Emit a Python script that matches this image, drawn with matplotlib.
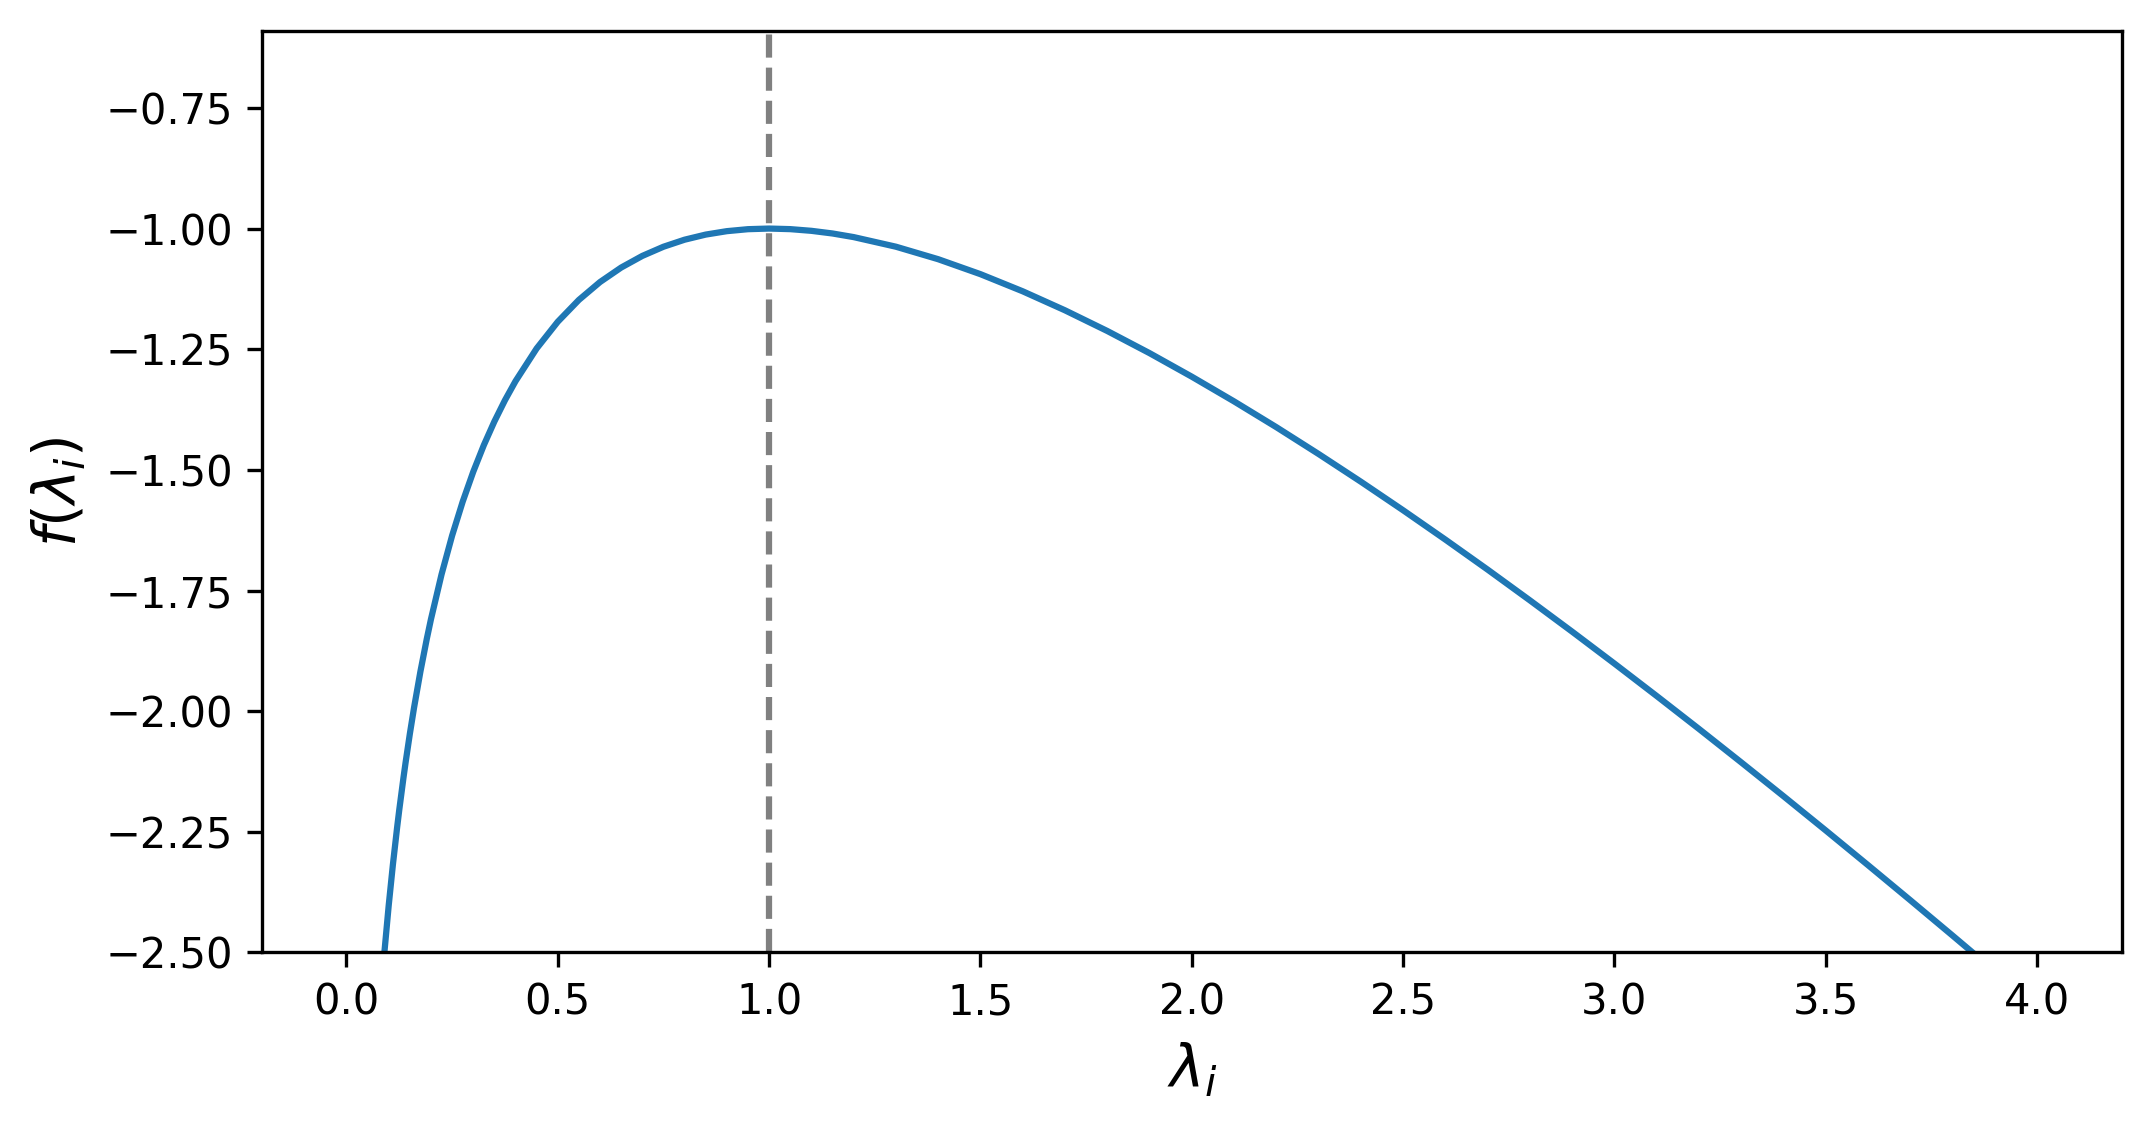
import matplotlib
matplotlib.use("Agg")
import matplotlib.pyplot as plt

# values
lam = [0.08, 0.09, 0.10, 0.11, 0.12, 0.125, 0.135, 0.14, 0.15, 0.16, 0.175,
       0.19, 0.20, 0.225, 0.25, 0.275, 0.30, 0.325, 0.35, 0.375, 0.40, 0.45,
       0.50, 0.55, 0.60, 0.65, 0.70, 0.75, 0.80, 0.85, 0.90, 0.95, 1.00,
       1.05, 1.10, 1.15, 1.20, 1.30, 1.40, 1.50, 1.60, 1.70, 1.80, 1.90,
       2.00, 2.10, 2.20, 2.30, 2.40, 2.50, 2.60, 2.70, 2.80, 2.90, 3.00,
       3.10, 3.20, 3.30, 3.40, 3.50, 3.60, 3.70, 3.80, 3.90]
f_lam = [-2.6057, -2.4979, -2.4026, -2.3173, -2.2403, -2.2044, -2.1375, -2.1061,
         -2.0471, -1.9926, -1.9180, -1.8507, -1.8094, -1.7167, -1.6363, -1.5660,
         -1.5040, -1.4489, -1.3998, -1.3558, -1.3163, -1.2485, -1.1931, -1.1478,
         -1.1108, -1.0808, -1.0567, -1.0377, -1.0231, -1.0125, -1.0054, -1.0013,
         -1.0000, -1.0012, -1.0047, -1.0102, -1.0177, -1.0376, -1.0635, -1.0945,
         -1.1300, -1.1694, -1.2122, -1.2581, -1.3069, -1.3581, -1.4115, -1.4671,
         -1.5245, -1.5837, -1.6445, -1.7067, -1.7704, -1.8353, -1.9014, -1.9686,
         -2.0368, -2.1061, -2.1762, -2.2472, -2.3191, -2.3917, -2.4650, -2.5390]

peak = 1.0

fig = plt.figure(figsize=(2152 / 300, 1128 / 300), dpi=300)
ax = fig.add_axes([0.1217, 0.1556, 0.8642, 0.8172])

ax.plot(lam, f_lam, color='#1f77b4', linewidth=1.5)
ax.axvline(peak, color='grey', linestyle='--', linewidth=1.5)

ax.set_xlim(-0.2, 4.2)
ax.set_ylim(-2.5, -0.59)
ax.set_xticks([0.0, 0.5, 1.0, 1.5, 2.0, 2.5, 3.0, 3.5, 4.0])
ax.set_yticks([-2.5, -2.25, -2.0, -1.75, -1.5, -1.25, -1.0, -0.75])
ax.set_xlabel(r'$\lambda_i$', fontsize=14)
ax.set_ylabel(r'$f(\lambda_i)$', fontsize=14)

fig.savefig("out.png", dpi=300)
